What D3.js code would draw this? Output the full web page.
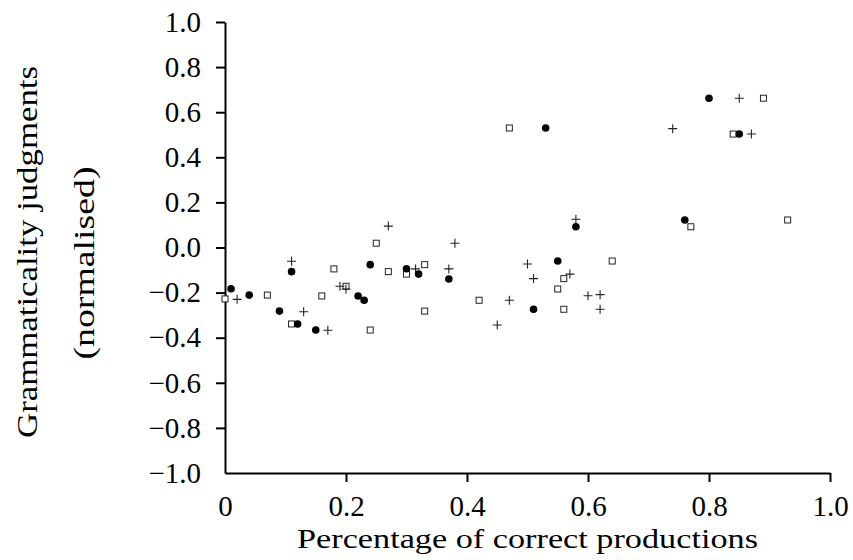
<!DOCTYPE html>
<html>
<head>
<meta charset="utf-8">
<style>
  body { margin: 0; background: #fff; }
  text { font-family: "Liberation Serif", serif; }
</style>
</head>
<body>
<svg></svg>
<script src="https://cdn.jsdelivr.net/npm/d3@7"></script>
<script>

  // filled circles
  const circleX = [0.01, 0.04, 0.09, 0.11, 0.12, 0.15, 0.22, 0.23, 0.24, 0.30, 0.32, 0.37, 0.51, 0.53, 0.55, 0.58, 0.76, 0.80, 0.85]
  const circleY = [-0.183, -0.211, -0.282, -0.107, -0.339, -0.366, -0.215, -0.234, -0.076, -0.094, -0.118, -0.140, -0.274, 0.530, -0.060, 0.092, 0.122, 0.662, 0.503]

  // open squares
  const squareX = [0.00, 0.07, 0.11, 0.16, 0.18, 0.20, 0.24, 0.25, 0.27, 0.30, 0.33, 0.33, 0.42, 0.47, 0.55, 0.56, 0.56, 0.64, 0.77, 0.84, 0.89, 0.93]
  const squareY = [-0.228, -0.211, -0.339, -0.215, -0.095, -0.172, -0.366, 0.019, -0.107, -0.118, -0.076, -0.282, -0.234, 0.530, -0.184, -0.138, -0.274, -0.060, 0.092, 0.503, 0.662, 0.122]

  // plus signs
  const plusX = [0.02, 0.11, 0.13, 0.17, 0.19, 0.20, 0.27, 0.315, 0.37, 0.38, 0.45, 0.47, 0.50, 0.51, 0.57, 0.58, 0.60, 0.62, 0.62, 0.74, 0.85, 0.87]
  const plusY = [-0.230, -0.061, -0.285, -0.367, -0.172, -0.184, 0.095, -0.095, -0.095, 0.019, -0.344, -0.234, -0.073, -0.138, -0.118, 0.125, -0.214, -0.209, -0.274, 0.527, 0.662, 0.503]

  const xTicks = [0, 0.2, 0.4, 0.6, 0.8, 1.0]
  const xTickLabels = ["0", "0.2", "0.4", "0.6", "0.8", "1.0"]
  const yTicks = [-1.0, -0.8, -0.6, -0.4, -0.2, 0.0, 0.2, 0.4, 0.6, 0.8, 1.0]

  const width = 853,
        height = 560,
        fontSize = 29,
        titleSize = 30

  const margin = {left: 225, top: 22, right: 23, bottom: 87}
  const w = width - margin.left - margin.right,
        h = height - margin.top - margin.bottom

  const xScale = d3.scaleLinear()
    .domain([0, 1])
    .range([0, w])

  const yScale = d3.scaleLinear()
    .domain([-1, 1])
    .range([h, 0])

  const svg = d3.select("svg")
    .attr("width", width)
    .attr("height", height)

  const g = svg.append("g")
    .attr("transform", `translate(${margin.left}, ${margin.top})`)

  const fmtY = d => (d < 0 ? "\u2212" : "") + Math.abs(d).toFixed(1)

  const gx = g.append("g")
    .attr("transform", `translate(0, ${h})`)
    .call(d3.axisBottom(xScale)
      .tickValues(xTicks)
      .tickFormat((d, i) => xTickLabels[i])
      .tickSize(9)
      .tickSizeOuter(0)
      .tickPadding(13))

  const gy = g.append("g")
    .call(d3.axisLeft(yScale)
      .tickValues(yTicks)
      .tickFormat(fmtY)
      .tickSize(9)
      .tickSizeOuter(0)
      .tickPadding(15))

  // no tick marks in the corner
  gx.selectAll(".tick").filter(d => d === 0).select("line").remove()
  gy.selectAll(".tick").filter(d => d === -1).select("line").remove()

  svg.selectAll(".domain, .tick line")
    .attr("stroke", "#000")
    .attr("stroke-width", 2)
  svg.selectAll(".tick text")
    .attr("fill", "#000")
    .style("font-family", "Liberation Serif")
    .style("font-size", fontSize + "px")

  g.append("text")
    .attr("x", w / 2)
    .attr("y", h + 75)
    .attr("textLength", 461)
    .attr("lengthAdjust", "spacingAndGlyphs")
    .style("text-anchor", "middle")
    .style("font-size", "28px")
    .text("Percentage of correct productions")

  g.append("text")
    .attr("transform", `translate(${37 - margin.left}, ${252 - margin.top}) rotate(-90)`)
    .attr("textLength", 372)
    .attr("lengthAdjust", "spacingAndGlyphs")
    .style("text-anchor", "middle")
    .style("font-size", titleSize + "px")
    .text("Grammaticality judgments")

  g.append("text")
    .attr("transform", `translate(${94 - margin.left}, ${263 - margin.top}) rotate(-90)`)
    .attr("textLength", 193)
    .attr("lengthAdjust", "spacingAndGlyphs")
    .style("text-anchor", "middle")
    .style("font-size", titleSize + "px")
    .text("(normalised)")

  // squares
  g.selectAll(".square")
    .data(squareX)
    .enter()
    .append("rect")
      .attr("class", "square")
      .attr("x", (d, i) => xScale(d) - 3)
      .attr("y", (d, i) => yScale(squareY[i]) - 3)
      .attr("width", 6)
      .attr("height", 6)
      .attr("fill", "#fff")
      .attr("stroke", "#222")
      .attr("stroke-width", 1)

  // pluses
  const plusSize = 4.5
  g.selectAll(".plus")
    .data(plusX)
    .enter()
    .append("path")
      .attr("class", "plus")
      .attr("d", (d, i) => {
        const cx = xScale(d), cy = yScale(plusY[i])
        return `M${cx - plusSize},${cy}H${cx + plusSize}M${cx},${cy - plusSize}V${cy + plusSize}`
      })
      .attr("stroke", "#222")
      .attr("stroke-width", 1.1)
      .attr("fill", "none")

  // circles
  g.selectAll(".dot")
    .data(circleX)
    .enter()
    .append("circle")
      .attr("class", "dot")
      .attr("cx", d => xScale(d))
      .attr("cy", (d, i) => yScale(circleY[i]))
      .attr("r", 3.8)
      .attr("fill", "#000")

</script>
</body>
</html>
